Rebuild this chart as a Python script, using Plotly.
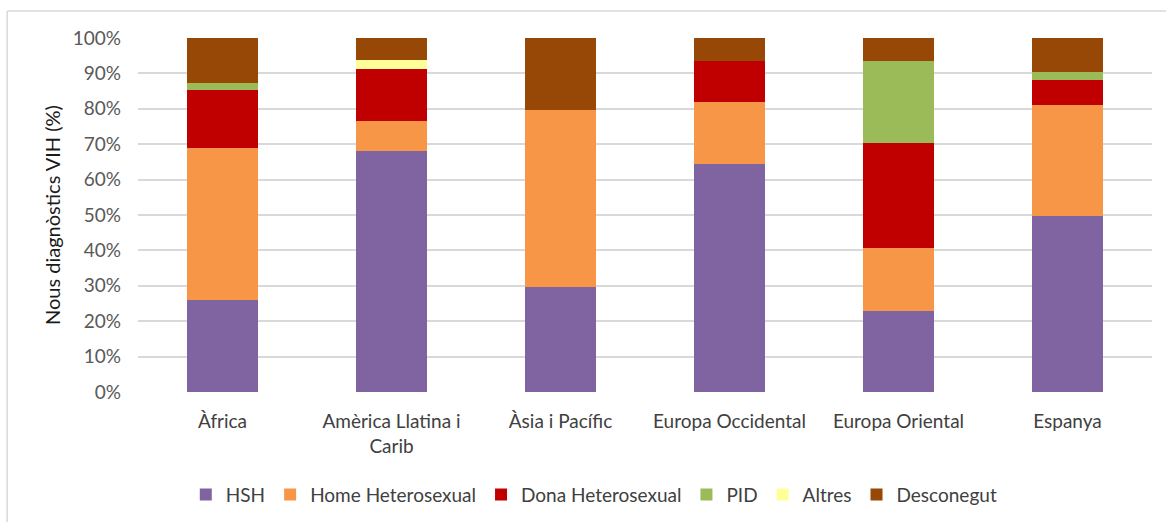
import plotly.graph_objects as go

categories = ["Àfrica", "Amèrica Llatina i<br>Carib", "Àsia i Pacífic",
              "Europa Occidental", "Europa Oriental", "Espanya"]

hsh = [26.0, 68.0, 29.6, 64.3, 23.0, 49.6]
home_het = [43.0, 8.5, 50.0, 17.5, 17.7, 31.5]
dona_het = [16.2, 14.7, 0.0, 11.8, 29.6, 6.9]
pid = [2.1, 0.0, 0.0, 0.0, 23.3, 2.5]
altres = [0.0, 2.7, 0.0, 0.0, 0.0, 0.0]
desconegut = [12.7, 6.1, 20.4, 6.4, 6.4, 9.5]

series_names = ["HSH", "Home Heterosexual", "Dona Heterosexual", "PID", "Altres", "Desconegut"]
series_values = [hsh, home_het, dona_het, pid, altres, desconegut]
series_colors = ["#8064A2", "#F79646", "#C00000", "#9BBB59", "#FFFF99", "#974706"]

y_ticks = list(range(0, 101, 10))
y_tick_labels = [f"{v}%" for v in y_ticks]

FONT = "Lato"

fig = go.Figure()
for name, vals, col in zip(series_names, series_values, series_colors):
    fig.add_trace(go.Bar(x=categories, y=vals, name=name,
                         marker=dict(color=col, line=dict(width=0))))

fig.update_layout(
    width=1166, height=522,
    barmode="stack", bargap=0.585,
    paper_bgcolor="white", plot_bgcolor="white",
    margin=dict(l=138, r=14, t=38, b=130, autoexpand=False),
    font=dict(family=FONT, size=19, color="#595959"),
    legend=dict(orientation="h", x=0.45, xanchor="center", y=-0.29, yanchor="middle",
                font=dict(family=FONT, size=19, color="#404040"),
                traceorder="normal", itemwidth=30),
    showlegend=True,
    shapes=[
        dict(type="line", xref="paper", yref="paper", x0=-0.129, x1=1.2, y0=1.076, y1=1.076,
             line=dict(color="#D9D9D9", width=1.5)),
        dict(type="line", xref="paper", yref="paper", x0=-0.129, x1=-0.129, y0=1.076, y1=-0.5,
             line=dict(color="#D9D9D9", width=1.5)),
    ],
)
fig.update_xaxes(showgrid=False, showline=False, zeroline=False, ticks="",
                 tickfont=dict(family=FONT, size=19, color="#404040"),
                 ticklabelstandoff=16)
fig.update_yaxes(range=[0, 100], tickvals=y_ticks, ticktext=y_tick_labels,
                 showgrid=True, gridcolor="#D9D9D9", gridwidth=1.5,
                 zeroline=False, showline=False, ticks="",
                 tickfont=dict(family=FONT, size=19, color="#595959"),
                 ticklabelstandoff=16,
                 title=dict(text="Nous diagnòstics VIH (%)", standoff=6,
                            font=dict(family=FONT, size=20, color="#1A1A1A")))

fig.write_html("out.html", config={"displayModeBar": False},
               post_script="document.body.style.margin='0px';")
